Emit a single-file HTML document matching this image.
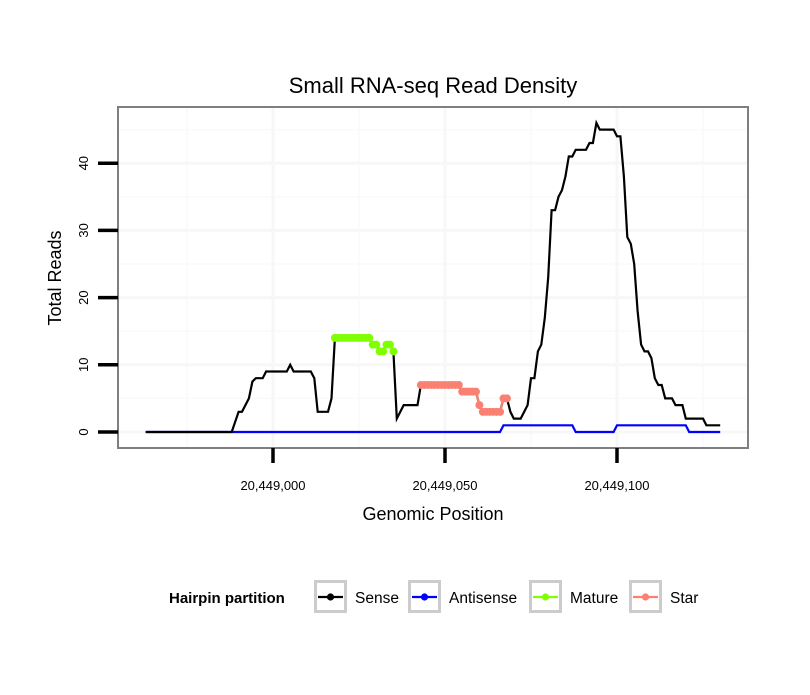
<!DOCTYPE html>
<html><head><meta charset="utf-8"><style>
body{margin:0;background:#fff;}
svg text{font-family:"Liberation Sans",sans-serif;}
</style></head><body>
<svg id="chart" width="810" height="690" xmlns="http://www.w3.org/2000/svg">
<rect width="810" height="690" fill="#fff"/>
<text x="433" y="93" font-size="22" text-anchor="middle">Small RNA-seq Read Density</text>
<g id="grid"></g>
<g id="series"></g>
<rect x="118" y="107" width="630" height="341" fill="none" stroke="#7f7f7f" stroke-width="2"/>
<g id="axes"></g>
<text x="433" y="520" font-size="18" text-anchor="middle">Genomic Position</text>
<text transform="translate(61,278) rotate(-90)" font-size="18" text-anchor="middle">Total Reads</text>
<g id="legend"></g>
</svg>
<script>
// Data (positions offset from 20,449,000)
const senseX=[-37,-12,-10,-9,-7,-6,-5,-3,-2,4,5,6,11,12,13,16,17,18,28,29,30,31,32,33,34,35,36,37,38,42,43,54,55,59,60,61,66,67,68,69,70,72,74,75,76,77,78,79,80,81,82,83,84,85,86,87,88,91,92,93,94,95,99,100,101,102,103,104,105,106,107,108,109,110,111,112,113,114,116,117,119,120,125,126,130];
const senseY=[0,0,3,3,5,7.5,8,8,9,9,10,9,9,8,3,3,5,14,14,13,13,12,12,13,13,12,2,3,4,4,7,7,6,6,4,3,3,5,5,3,2,2,4,8,8,12,13,17,23,33,33,35,36,38,41,41,42,42,43,43,46,45,45,44,44,38,29,28,25,18,13,12,12,11,8,7,7,5,5,4,4,2,2,1,1];
const antiX=[-37,66,67,87,88,99,100,120,121,130];
const antiY=[0,0,1,1,0,0,1,1,0,0];
const matureX=[18,19,20,21,22,23,24,25,26,27,28,29,30,31,32,33,34,35];
const matureY=[14,14,14,14,14,14,14,14,14,14,14,13,13,12,12,13,13,12];
const starX=[43,44,45,46,47,48,49,50,51,52,53,54,55,56,57,58,59,60,61,62,63,64,65,66,67,68];
const starY=[7,7,7,7,7,7,7,7,7,7,7,7,6,6,6,6,6,4,3,3,3,3,3,3,5,5];
const xTicks=[0,50,100];
const xTickLabels=["20,449,000","20,449,050","20,449,100"];
const yTicks=[0,10,20,30,40];
const legendLabels=["Sense","Antisense","Mature","Star"];
const legendColors=["#000000","#0000ff","#7fff00","#fa8072"];

const NS="http://www.w3.org/2000/svg";
const sx=p=>273+p*3.44;
const sy=v=>432-v*6.72;
function mk(tag,attrs,parent){const e=document.createElementNS(NS,tag);for(const k in attrs)e.setAttribute(k,attrs[k]);parent.appendChild(e);return e;}
const grid=document.getElementById('grid'),series=document.getElementById('series'),axes=document.getElementById('axes'),legend=document.getElementById('legend');
mk('rect',{x:118,y:107,width:630,height:341,fill:'#fff'},grid);
[-25,25,75,125].forEach(p=>{const l=mk('line',{x1:sx(p),x2:sx(p),y1:108,y2:447,stroke:'#fafafa','stroke-width':1.5},grid);

});
[5,15,25,35,45].forEach(v=>{const l=mk('line',{x1:119,x2:747,y1:sy(v),y2:sy(v),stroke:'#fafafa','stroke-width':1.5},grid);

});
xTicks.forEach(p=>{const l=mk('line',{x1:sx(p),x2:sx(p),y1:108,y2:447,stroke:'#f7f7f7','stroke-width':3},grid);

});
yTicks.forEach(v=>{const l=mk('line',{x1:119,x2:747,y1:sy(v),y2:sy(v),stroke:'#f7f7f7','stroke-width':3},grid);

});
function pts(X,Y){return X.map((x,i)=>sx(x).toFixed(1)+','+sy(Y[i]).toFixed(1)).join(' ');}
let s=mk('polyline',{points:pts(antiX,antiY),fill:'none',stroke:'#0000ff','stroke-width':2.2},series);


s=mk('polyline',{points:pts(senseX,senseY),fill:'none',stroke:'#000','stroke-width':2.2},series);


function ptSeries(X,Y,col,name){
 const l=mk('polyline',{points:pts(X,Y),fill:'none',stroke:col,'stroke-width':2.2},series);
 
 
 X.forEach((x,i)=>{const c=mk('circle',{cx:sx(x),cy:sy(Y[i]),r:4,fill:col},series);
 
 });
}
ptSeries(matureX,matureY,'#7fff00','mature');
ptSeries(starX,starY,'#fa8072','star');
xTicks.forEach((p,i)=>{const t=mk('line',{x1:sx(p),x2:sx(p),y1:448,y2:463,stroke:'#000','stroke-width':3.5},axes);


const tx=mk('text',{x:sx(p),y:490,'font-size':13,'text-anchor':'middle'},axes);tx.textContent=xTickLabels[i];

});
yTicks.forEach(v=>{const t=mk('line',{x1:98,x2:118,y1:sy(v),y2:sy(v),stroke:'#000','stroke-width':3.5},axes);


const tx=mk('text',{transform:`translate(88,${sy(v)}) rotate(-90)`,'font-size':13,'text-anchor':'middle'},axes);tx.textContent=v;

});
const lt=mk('text',{x:169,y:603,'font-size':15,'font-weight':'bold'},legend);lt.textContent='Hairpin partition';


const boxX=[314,408,529,629];
legendLabels.forEach((lab,i)=>{const bx=boxX[i];
 const g=mk('g',{},legend);
 
 
 mk('rect',{x:bx+1.5,y:581.5,width:30,height:30,fill:'#fff',stroke:'#cccccc','stroke-width':3},g);
 mk('line',{x1:bx+4,x2:bx+29,y1:597,y2:597,stroke:legendColors[i],'stroke-width':2.2},g);
 mk('circle',{cx:bx+16.5,cy:597,r:3.6,fill:legendColors[i]},g);
 const t=mk('text',{x:bx+41,y:603,'font-size':15.5},g);t.textContent=lab;});
</script>
</body></html>
